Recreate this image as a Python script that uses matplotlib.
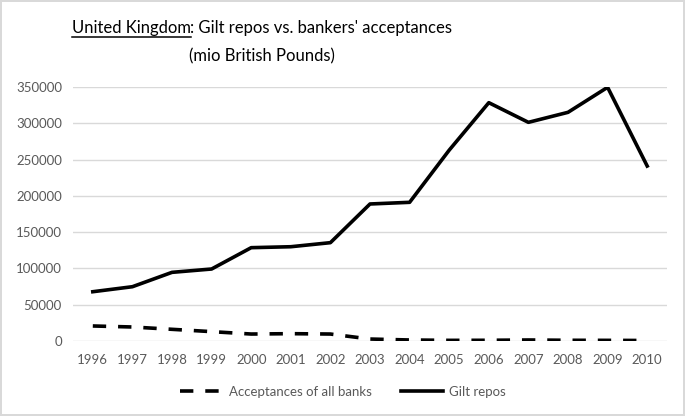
import matplotlib.pyplot as plt
from matplotlib.lines import Line2D

# data (mio GBP)
years = [1996, 1997, 1998, 1999, 2000, 2001, 2002, 2003,
         2004, 2005, 2006, 2007, 2008, 2009, 2010]
gilt_repos = [67900, 74800, 94600, 99200, 128600, 129900, 135500, 188800,
              191100, 263000, 328400, 301300, 315100, 349600, 241100]
acceptances = [20700, 19300, 16100, 12900, 9600, 10100, 9600, 2700,
               1400, 900, 1000, 1400, 1000, 900, 700]
yticks = [0, 50000, 100000, 150000, 200000, 250000, 300000, 350000]

plt.rcParams['font.family'] = ['Lato', 'DejaVu Sans']
grey = '#595959'

fig = plt.figure(figsize=(6.85, 4.16), dpi=100)
fig.patch.set_edgecolor('#d9d9d9')
fig.patch.set_linewidth(1.5)
ax = fig.add_axes([73 / 685, 75 / 416, 594 / 685, 254 / 416])

ax.plot(years, acceptances, color='black', lw=2.6,
        linestyle=(0, (3.7, 3.3)), label='Acceptances of all banks')
ax.plot(years, gilt_repos, color='black', lw=2.6, label='Gilt repos')

ax.set_xlim(1995.5, 2010.5)
ax.set_ylim(0, 350000)
ax.set_xticks(years)
ax.set_yticks(yticks)
ax.tick_params(length=0, colors=grey, labelsize=9.5, pad=8)
ax.tick_params(axis='x', pad=9)
for s in ax.spines.values():
    s.set_visible(False)
ax.grid(axis='y', color='#d9d9d9', lw=1)
ax.set_axisbelow(True)

ax.legend(loc='center', bbox_to_anchor=(343 / 685, (416 - 392) / 416),
          bbox_transform=fig.transFigure, ncol=2, frameon=False,
          fontsize=9.5, labelcolor=grey, handlelength=3.2,
          columnspacing=2.2, handletextpad=0.5)

# title with underlined "United Kingdom"
fs = 12
fig.canvas.draw()
r = fig.canvas.get_renderer()
t1 = fig.text(0, 0, 'United Kingdom', fontsize=fs)
t2 = fig.text(0, 0, ": Gilt repos vs. bankers' acceptances", fontsize=fs)
w1 = t1.get_window_extent(r).width
w2 = t2.get_window_extent(r).width
cx, base = 262, 416 - 33
x0 = cx - (w1 + w2) / 2
t1.set_position((x0 / 685, base / 416))
t2.set_position(((x0 + w1) / 685, base / 416))
fig.add_artist(Line2D([x0 / 685, (x0 + w1) / 685],
                      [(base - 3.5) / 416, (base - 3.5) / 416],
                      color='black', lw=1.1))
fig.text(cx / 685, (416 - 61) / 416, '(mio British Pounds)',
         fontsize=fs, ha='center')

fig.savefig('out.png', dpi=100, edgecolor=fig.get_edgecolor())
